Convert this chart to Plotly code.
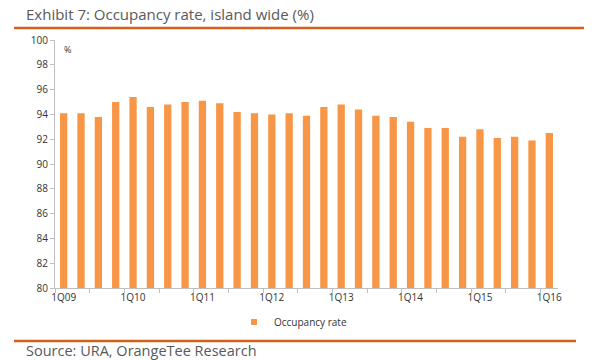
import plotly.graph_objects as go

quarters = ["1Q09","2Q09","3Q09","4Q09","1Q10","2Q10","3Q10","4Q10",
            "1Q11","2Q11","3Q11","4Q11","1Q12","2Q12","3Q12","4Q12",
            "1Q13","2Q13","3Q13","4Q13","1Q14","2Q14","3Q14","4Q14",
            "1Q15","2Q15","3Q15","4Q15","1Q16"]
occupancy = [94.1, 94.1, 93.8, 95.0, 95.4, 94.6, 94.8, 95.0,
             95.1, 94.9, 94.2, 94.1, 94.0, 94.1, 93.9, 94.6,
             94.8, 94.4, 93.9, 93.8, 93.4, 92.9, 92.9, 92.2,
             92.8, 92.1, 92.2, 91.9, 92.5]
tick_labels = ["1Q09","1Q10","1Q11","1Q12","1Q13","1Q14","1Q15","1Q16"]
y_ticks = list(range(80, 101, 2))

idx = list(range(len(quarters)))
label_pos = [quarters.index(t) for t in tick_labels]
BAR_COLOR = "#F79646"

fig = go.Figure()
fig.add_trace(go.Bar(x=idx, y=occupancy, name="Occupancy rate",
                     marker=dict(color=BAR_COLOR, line=dict(width=0)),
                     width=0.42, showlegend=False))
# legend entry with a small square swatch
fig.add_trace(go.Scatter(x=[None], y=[None], mode="markers", name="Occupancy rate",
                         marker=dict(symbol="square", size=6, color=BAR_COLOR),
                         showlegend=True))

W, H = 600, 360
L, R, T, B = 55, 42, 40, 72
pw = W - L - R
ph = H - T - B

def px(x):
    return (x - L) / pw

def py(y):
    return (H - B - y) / ph

fig.update_layout(
    width=W, height=H,
    margin=dict(l=L, r=R, t=T, b=B, autoexpand=False),
    paper_bgcolor="white", plot_bgcolor="white",
    font=dict(family="Open Sans, sans-serif", color="#333333", size=10),
    showlegend=True,
    legend=dict(orientation="h", x=px(293), xanchor="center",
                y=py(322), yanchor="middle", font=dict(size=10, color="#333333"),
                itemwidth=30, bgcolor="rgba(0,0,0,0)"),
    xaxis=dict(range=[-0.5, len(quarters) - 0.5], tickmode="array",
               tickvals=label_pos, ticktext=tick_labels, ticks="",
               showline=True, linecolor="#BFBFBF", linewidth=1,
               showgrid=False, zeroline=False,
               tickfont=dict(size=10, color="#333333"),
               minor=dict(tickmode="array",
                          tickvals=[i - 0.5 for i in range(0, len(quarters) + 1, 2)],
                          ticks="outside", ticklen=4, tickcolor="#BFBFBF",
                          showgrid=False)),
    yaxis=dict(range=[80, 100], tickmode="array", tickvals=y_ticks,
               ticks="outside", ticklen=4, tickcolor="#BFBFBF",
               showline=True, linecolor="#BFBFBF", linewidth=1,
               showgrid=False, zeroline=False,
               tickfont=dict(size=10, color="#333333")),
)

fig.add_annotation(text="Exhibit 7: Occupancy rate, island wide (%)",
                   xref="paper", yref="paper", x=px(24), y=py(14),
                   xanchor="left", yanchor="middle", showarrow=False,
                   font=dict(size=15, color="#595959"))
fig.add_annotation(text="Source: URA, OrangeTee Research",
                   xref="paper", yref="paper", x=px(24), y=py(350),
                   xanchor="left", yanchor="middle", showarrow=False,
                   font=dict(size=14.5, color="#595959"))
fig.add_annotation(text="%", xref="paper", yref="paper", x=px(62), y=py(50),
                   xanchor="left", yanchor="middle", showarrow=False,
                   font=dict(size=9, color="#333333"))

fig.add_shape(type="line", xref="paper", yref="paper",
              x0=px(14), x1=px(584), y0=py(28), y1=py(28),
              line=dict(color="#D2601A", width=2.5))
fig.add_shape(type="line", xref="paper", yref="paper",
              x0=px(14), x1=px(576), y0=py(341), y1=py(341),
              line=dict(color="#D2601A", width=2.5))

fig.write_html("out.html",
               config={"displayModeBar": False},
               post_script="document.body.style.margin='0';document.body.style.padding='0';")
